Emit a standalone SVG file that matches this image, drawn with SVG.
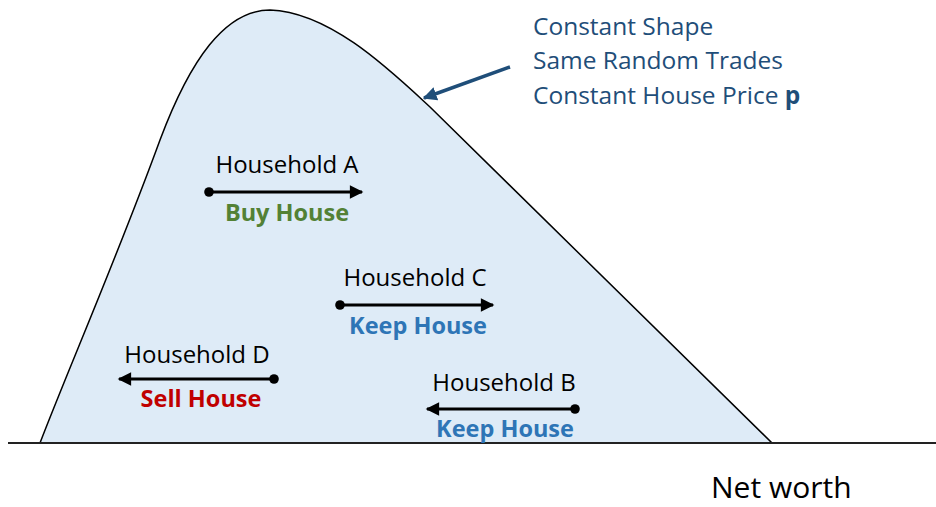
<svg xmlns="http://www.w3.org/2000/svg" width="936" height="507" viewBox="0 0 936 507">
<defs>
<marker id="ah" viewBox="0 0 10 10" refX="9" refY="5" markerWidth="5.5" markerHeight="4.5" markerUnits="strokeWidth" orient="auto">
<path d="M0,0 L10,5 L0,10 Z" fill="#000"/>
</marker>
<marker id="ahb" viewBox="0 0 10 10" refX="9" refY="5" markerWidth="4" markerHeight="4" markerUnits="strokeWidth" orient="auto">
<path d="M0,0 L10,5 L0,10 Z" fill="#1f4e79"/>
</marker>
<marker id="dot" viewBox="0 0 10 10" refX="5" refY="5" markerWidth="4.5" markerHeight="3.2" markerUnits="strokeWidth" orient="auto">
<ellipse cx="5" cy="5" rx="5" ry="5" fill="#000"/>
</marker>
</defs>
<style>
.t{font-family:"Open Sans","Liberation Sans",sans-serif;font-size:24px;fill:#000;text-anchor:middle}
.b{font-family:"Open Sans","Liberation Sans",sans-serif;font-size:23.5px;font-weight:bold;text-anchor:middle}
.note{font-family:"Open Sans","Liberation Sans",sans-serif;font-size:24.5px;fill:#1f4e79}
.ar{stroke:#000;stroke-width:3;fill:none;marker-end:url(#ah);marker-start:url(#dot)}
</style>
<rect width="936" height="507" fill="#fff"/>
<g id="distribution">
<path d="M40,443 C68,370 118,255 160,140 C190,60 225,10 270,10 C330,12 390,70 430,107 L772,443 Z" fill="#deebf7" stroke="#000" stroke-width="1.5"/>
<line x1="8" y1="443" x2="936" y2="443" stroke="#222" stroke-width="2"/>
</g>
<g id="connectors">
<line class="ar" x1="209" y1="192" x2="362" y2="192"/>
<line class="ar" x1="340" y1="305" x2="493" y2="305"/>
<line class="ar" x1="274" y1="379" x2="119" y2="379"/>
<line class="ar" x1="575" y1="409" x2="427" y2="409"/>
<line x1="510" y1="67" x2="424" y2="98" stroke="#1f4e79" stroke-width="3.5" marker-end="url(#ahb)"/>
</g>
<g id="household-a">
<text class="t" x="287" y="173">Household A</text>
<text class="b" x="287" y="221" fill="#538135">Buy House</text>
</g>
<g id="household-c">
<text class="t" x="415" y="286">Household C</text>
<text class="b" x="418" y="334" fill="#2e75b6">Keep House</text>
</g>
<g id="household-d">
<text class="t" x="197" y="363">Household D</text>
<text class="b" x="201" y="407" fill="#c00000">Sell House</text>
</g>
<g id="household-b">
<text class="t" x="504" y="391">Household B</text>
<text class="b" x="505" y="437" fill="#2e75b6">Keep House</text>
</g>
<g id="note">
<text class="note" x="533" y="35">Constant Shape</text>
<text class="note" x="533" y="69">Same Random Trades</text>
<text class="note" x="533" y="104">Constant House Price <tspan font-weight="bold">p</tspan></text>
</g>
<g id="axis-label">
<text x="711" y="498" font-family="Open Sans, Liberation Sans, sans-serif" font-size="30" fill="#000">Net worth</text>
</g>
</svg>
